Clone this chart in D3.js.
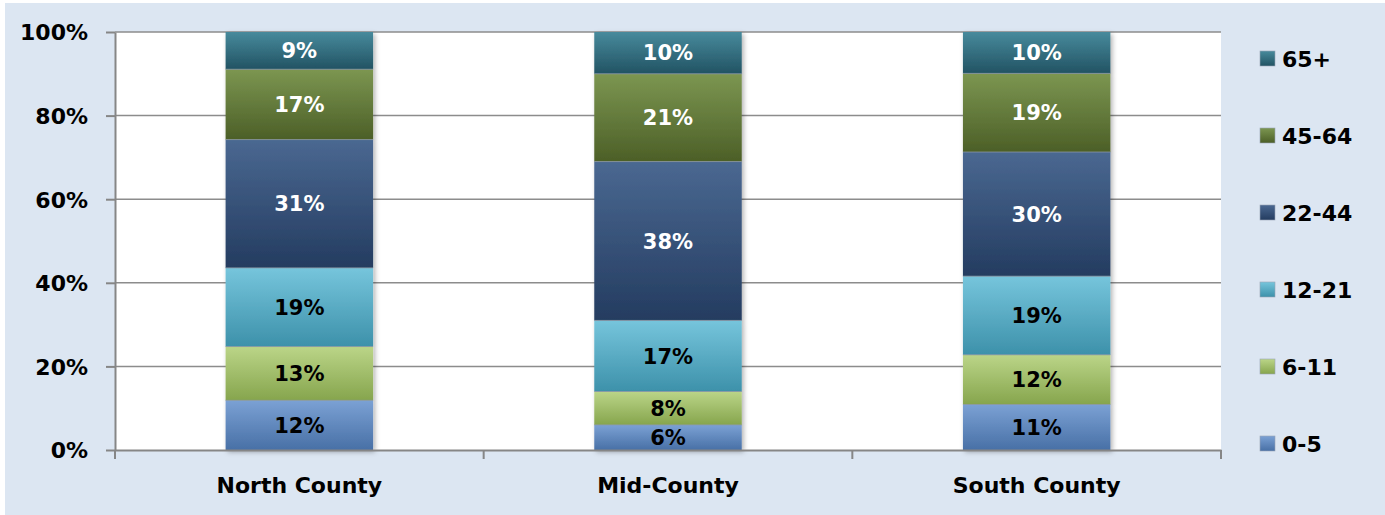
<!DOCTYPE html>
<html>
<head>
<meta charset="utf-8">
<script src="https://cdn.jsdelivr.net/npm/d3@7"></script>
<style>
  html, body { margin: 0; padding: 0; background: #ffffff; }
  svg { display: block; }
  text { font-family: "DejaVu Sans", "Liberation Sans", sans-serif; font-weight: bold; }
</style>
</head>
<body>
<svg id="chart" width="1385" height="515"></svg>
<script>
// ---- Data ----
const categories = ["North County", "Mid-County", "South County"];
const seriesNames = ["0-5", "6-11", "12-21", "22-44", "45-64", "65+"];
const v0_5   = [12, 6, 11];
const v6_11  = [13, 8, 12];
const v12_21 = [19, 17, 19];
const v22_44 = [31, 38, 30];
const v45_64 = [17, 21, 19];
const v65    = [9, 10, 10];
const yTicks = [0, 0.2, 0.4, 0.6, 0.8, 1.0];

// ---- Styles ----
const gradTop = { "0-5": "#7ba1d4", "6-11": "#bbd588", "12-21": "#76c5dc", "22-44": "#4a6891", "45-64": "#7c9651", "65+": "#478a9c" };
const gradBot = { "0-5": "#4870a6", "6-11": "#86a54d", "12-21": "#3d91aa", "22-44": "#243c60", "45-64": "#4c5f27", "65+": "#225363" };
const labelColor = { "0-5": "#000", "6-11": "#000", "12-21": "#000", "22-44": "#fff", "45-64": "#fff", "65+": "#fff" };

const seriesValues = [v0_5, v6_11, v12_21, v22_44, v45_64, v65];
const table = categories.map((c, i) => {
  const row = { category: c };
  seriesNames.forEach((s, k) => row[s] = seriesValues[k][i]);
  return row;
});

const svg = d3.select("#chart");
const W = 1385, H = 515;
const plot = { left: 115, right: 1221, top: 32, bottom: 450 };

// background
svg.append("rect").attr("x", 5).attr("y", 3).attr("width", W - 5).attr("height", H - 3).attr("fill", "#dce6f2");
svg.append("rect").attr("x", plot.left).attr("y", plot.top)
  .attr("width", plot.right - plot.left).attr("height", plot.bottom - plot.top).attr("fill", "#ffffff");

const defs = svg.append("defs");
seriesNames.forEach((s, k) => {
  const g = defs.append("linearGradient").attr("id", "g" + k)
    .attr("x1", 0).attr("y1", 0).attr("x2", 0).attr("y2", 1);
  g.append("stop").attr("offset", "0%").attr("stop-color", gradTop[s]);
  g.append("stop").attr("offset", "100%").attr("stop-color", gradBot[s]);
});
const f = defs.append("filter").attr("id", "shadow").attr("x", "-10%").attr("y", "-10%").attr("width", "130%").attr("height", "130%");
f.append("feDropShadow").attr("dx", 2).attr("dy", 2).attr("stdDeviation", 2.5).attr("flood-color", "#000").attr("flood-opacity", 0.3);

const x = d3.scaleBand().domain(categories).range([plot.left, plot.right]).paddingInner(0.6).paddingOuter(0.3);
const y = d3.scaleLinear().domain([0, 1]).range([plot.bottom, plot.top]);

// gridlines
svg.append("g").selectAll("line").data(yTicks.filter(t => t > 0)).join("line")
  .attr("x1", plot.left).attr("x2", plot.right)
  .attr("y1", d => y(d)).attr("y2", d => y(d))
  .attr("stroke", "#8c8c8c").attr("stroke-width", 1.5);

// stacked bars
const stack = d3.stack().keys(seriesNames).offset(d3.stackOffsetExpand);
const layers = stack(table);

const barsG = svg.append("g").attr("filter", "url(#shadow)");
layers.forEach((layer, k) => {
  barsG.selectAll(null).data(layer).join("rect")
    .attr("x", d => x(d.data.category))
    .attr("width", x.bandwidth())
    .attr("y", d => y(d[1]))
    .attr("height", d => y(d[0]) - y(d[1]))
    .attr("fill", `url(#g${k})`);
});
// segment separators
layers.forEach((layer, k) => {
  if (k === 0) return;
  svg.append("g").selectAll("line").data(layer).join("line")
    .attr("x1", d => x(d.data.category)).attr("x2", d => x(d.data.category) + x.bandwidth())
    .attr("y1", d => y(d[0])).attr("y2", d => y(d[0]))
    .attr("stroke", "#8a96a4").attr("stroke-width", 1).attr("stroke-opacity", 0.8);
});

// data labels
layers.forEach((layer, k) => {
  const s = seriesNames[k];
  svg.append("g").selectAll("text").data(layer).join("text")
    .attr("x", d => x(d.data.category) + x.bandwidth() / 2)
    .attr("y", d => (y(d[0]) + y(d[1])) / 2)
    .attr("dy", "0.36em")
    .attr("text-anchor", "middle")
    .attr("font-size", 21)
    .attr("fill", labelColor[s])
    .text(d => d.data[s] + "%");
});

// y axis
const yAxis = d3.axisLeft(y).tickValues(yTicks).tickFormat(d3.format(".0%")).tickSize(9).tickPadding(18).tickSizeOuter(0);
const yg = svg.append("g").attr("transform", `translate(${plot.left},0)`).call(yAxis);
yg.select(".domain").attr("stroke", "#868686").attr("stroke-width", 2);
yg.selectAll(".tick line").attr("stroke", "#868686").attr("stroke-width", 2);
yg.selectAll(".tick text").attr("font-size", 22).attr("fill", "#000").attr("font-family", null).attr("dy", "0.36em");

// x axis
const xAxis = d3.axisBottom(x).tickSize(0).tickSizeOuter(0).tickPadding(0);
const xg = svg.append("g").attr("transform", `translate(0,${plot.bottom})`).call(xAxis);
xg.select(".domain").attr("stroke", "#868686").attr("stroke-width", 2);
xg.selectAll(".tick text").attr("font-size", 22).attr("fill", "#000").attr("font-family", null)
  .attr("y", 43).attr("dy", 0);
// category boundary ticks
const bounds = d3.range(categories.length + 1).map(i => x.range()[0] + i * x.step());
xg.selectAll(".bt").data(bounds).join("line").attr("class", "bt")
  .attr("x1", d => d).attr("x2", d => d).attr("y1", 0).attr("y2", 9)
  .attr("stroke", "#868686").attr("stroke-width", 2);

// legend
const legendOrder = seriesNames.slice().reverse();
const lg = svg.append("g");
legendOrder.forEach((s, i) => {
  const k = seriesNames.indexOf(s);
  const cy = 59 + i * 77;
  lg.append("rect").attr("x", 1260).attr("y", cy - 8).attr("width", 15).attr("height", 15)
    .attr("fill", `url(#g${k})`).attr("stroke", "#9aa6b4").attr("stroke-width", 0.6);
  lg.append("text").attr("x", 1282).attr("y", cy).attr("dy", "0.36em")
    .attr("font-size", 22).attr("fill", "#000").text(s);
});
</script>
</body>
</html>
